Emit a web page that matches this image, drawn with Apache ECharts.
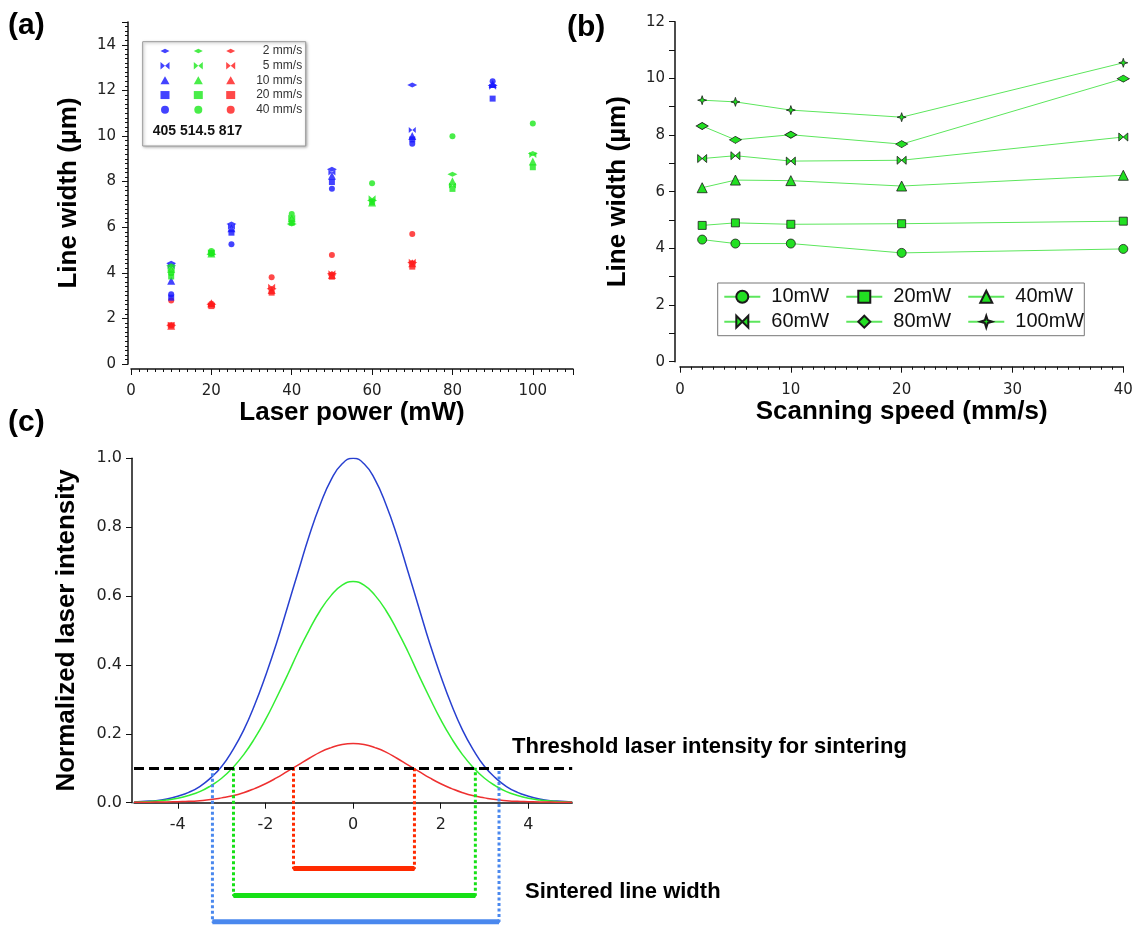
<!DOCTYPE html>
<html>
<head>
<meta charset="utf-8">
<script src="https://cdn.jsdelivr.net/npm/echarts@6/dist/echarts.min.js"></script>
<style>html,body{margin:0;padding:0;background:#fff}#main{width:1140px;height:926px}</style>
</head>
<body>
<div id="main"></div>
<script>
// (a) line width vs laser power: one row per power, columns = scan speed
var speedNames = ['2 mm/s', '5 mm/s', '10 mm/s', '20 mm/s', '40 mm/s'];
var power405 = [10, 25, 50, 70, 90];
var width405 = [
  [4.42, 4.30, 3.65, 2.91, 3.06],
  [6.14, 6.02, 5.95, 5.76, 5.25],
  [8.54, 8.40, 8.26, 7.98, 7.69],
  [12.24, 10.26, 10.0, 9.85, 9.66],
  [12.22, 12.16, 12.28, 11.64, 12.40]
];
var power817 = [10, 20, 35, 50, 70];
var width817 = [
  [1.70, 1.72, 1.68, 1.70, 2.78],
  [2.62, 2.58, 2.66, 2.54, 2.64],
  [3.30, 3.39, 3.25, 3.13, 3.80],
  [3.96, 3.98, 3.90, 3.83, 4.78],
  [4.45, 4.49, 4.42, 4.27, 5.70]
];
// 514.5 nm, used in (a) and (b): rows = power, columns = speed
var power514 = [10, 20, 40, 60, 80, 100];
var powerNames = ['10mW', '20mW', '40mW', '60mW', '80mW', '100mW'];
var speedB = [2, 5, 10, 20, 40];
var width514 = [
  [4.31, 4.17, 4.17, 3.84, 3.98],
  [4.81, 4.90, 4.85, 4.87, 4.96],
  [6.14, 6.41, 6.39, 6.20, 6.58],
  [7.17, 7.27, 7.08, 7.11, 7.93],
  [8.32, 7.83, 8.01, 7.68, 9.99],
  [9.23, 9.17, 8.88, 8.63, 10.55]
];
// (c) beam profiles, read every 0.25
var posC = [-5, -4.75, -4.5, -4.25, -4, -3.75, -3.5, -3.25, -3, -2.75, -2.5, -2.25, -2, -1.75, -1.5, -1.25, -1, -0.75, -0.5, -0.25,
  0, 0.25, 0.5, 0.75, 1, 1.25, 1.5, 1.75, 2, 2.25, 2.5, 2.75, 3, 3.25, 3.5, 3.75, 4, 4.25, 4.5, 4.75, 5];
var blueC = [0.002, 0.004, 0.006, 0.011, 0.019, 0.030, 0.047, 0.072, 0.105, 0.152, 0.21, 0.283, 0.368, 0.462, 0.567, 0.672, 0.776, 0.866, 0.938, 0.984,
  1.0, 0.984, 0.938, 0.866, 0.776, 0.672, 0.567, 0.462, 0.368, 0.283, 0.21, 0.152, 0.105, 0.072, 0.047, 0.030, 0.019, 0.011, 0.006, 0.004, 0.002];
var greenC = [0.001, 0.003, 0.005, 0.008, 0.013, 0.021, 0.032, 0.049, 0.071, 0.101, 0.139, 0.186, 0.241, 0.304, 0.37, 0.439, 0.502, 0.558, 0.602, 0.632,
  0.642, 0.632, 0.602, 0.558, 0.502, 0.439, 0.37, 0.304, 0.241, 0.186, 0.139, 0.101, 0.071, 0.049, 0.032, 0.021, 0.013, 0.008, 0.005, 0.003, 0.001];
var redC = [0.001, 0.001, 0.002, 0.002, 0.003, 0.004, 0.006, 0.009, 0.014, 0.020, 0.029, 0.041, 0.055, 0.072, 0.091, 0.110, 0.129, 0.147, 0.160, 0.169,
  0.172, 0.169, 0.160, 0.147, 0.129, 0.110, 0.091, 0.072, 0.055, 0.041, 0.029, 0.020, 0.014, 0.009, 0.006, 0.004, 0.003, 0.002, 0.002, 0.001, 0.001];
var threshold = 0.1;
var sinterLeft = [-1.36, -2.73, -3.21];
var sinterRight = [1.40, 2.79, 3.33];
var sinterLevel = [-0.193, -0.271, -0.348];
var sinterColors = ['#ff2a00', '#16e016', '#4a88ee'];

var diamondH = 'path://M0,4L8,0L16,4L8,8Z';
var bowtie = 'path://M0,0L6,5L0,10ZM12,0L6,5L12,10Z';
var star4 = 'path://M5,0L6.2,3.8L10,5L6.2,6.2L5,10L3.8,6.2L0,5L3.8,3.8Z';
var symA = [diamondH, bowtie, 'triangle', 'rect', 'circle'];
var sizeA = [[10, 5], [7, 6], 8, 6, 6];
var symB = ['circle', 'rect', 'triangle', bowtie, diamondH, star4];
var sizeB = [9, 8, 10, [9, 8], [12, 7], 9];

var c405 = '#1414ff', c514 = '#1be81b', c817 = '#ff1a1a';
var tickFont = 'DejaVu Sans';

var myChart = echarts.init(document.getElementById('main'));

function scatterSeries(prefix, color, powers, widths) {
  return speedNames.map(function (sp, j) {
    return {
      name: prefix + ' ' + sp, type: 'scatter', xAxisIndex: 0, yAxisIndex: 0,
      symbol: symA[j], symbolSize: sizeA[j], itemStyle: {color: color},
      data: powers.map(function (p, i) { return [p, widths[i][j]]; })
    };
  });
}

var series = [];
series = series.concat(scatterSeries('817', c817, power817, width817));
series = series.concat(scatterSeries('405', c405, power405, width405));
series = series.concat(scatterSeries('514.5', c514, power514, width514));

for (var i = 0; i < powerNames.length; i++) {
  series.push({
    name: powerNames[i], type: 'line', xAxisIndex: 1, yAxisIndex: 1,
    symbol: symB[i], symbolSize: sizeB[i],
    lineStyle: {color: '#5ce65c', width: 1},
    itemStyle: {color: '#22e022', borderColor: '#1a1a1a', borderWidth: 0.8},
    data: speedB.map(function (s, j) { return [s, width514[i][j]]; })
  });
}

var curves = [[blueC, '#2840d0'], [greenC, '#33ee33'], [redC, '#ee3030']];
curves.forEach(function (c, k) {
  var s = {
    type: 'line', xAxisIndex: 2, yAxisIndex: 2, smooth: true, showSymbol: false,
    lineStyle: {color: c[1], width: 1.5},
    data: posC.map(function (x, i) { return [x, c[0][i]]; })
  };
  if (k === 0) {
    s.markLine = {
      silent: true, symbol: 'none', label: {show: false},
      lineStyle: {color: '#000', width: 3, type: [10, 5]},
      data: [{yAxis: threshold}]
    };
  }
  series.push(s);
});

for (var k = 0; k < 3; k++) {
  series.push({
    type: 'line', xAxisIndex: 3, yAxisIndex: 3, showSymbol: false,
    lineStyle: {color: sinterColors[k], width: 3, type: [3, 2.5]},
    data: [[sinterLeft[k], threshold], [sinterLeft[k], sinterLevel[k]],
           [sinterRight[k], sinterLevel[k]], [sinterRight[k], threshold]]
  });
  series.push({
    type: 'line', xAxisIndex: 3, yAxisIndex: 3, showSymbol: false,
    lineStyle: {color: sinterColors[k], width: 5},
    data: [[sinterLeft[k], sinterLevel[k]], [sinterRight[k], sinterLevel[k]]]
  });
}

var axisLine = {show: true, onZero: false, lineStyle: {color: '#111', width: 1.5}};
var nameStyle = {fontSize: 26, fontWeight: 'bold', color: '#000', fontFamily: 'Liberation Sans'};

function legendA(prefix, left, withText) {
  var l = {
    orient: 'vertical', left: left, top: 43.6, padding: 0, itemGap: 0,
    itemWidth: 9, itemHeight: 8, selectedMode: false,
    data: speedNames.map(function (sp, j) { return {name: prefix + ' ' + sp, icon: symA[j]}; }),
    textStyle: {fontSize: 12, lineHeight: 14.7, color: '#333', fontFamily: 'Liberation Sans'}
  };
  if (withText) {
    l.formatter = function (name) { return '{r|' + name.replace(prefix + ' ', '') + '}'; };
    l.textStyle.rich = {r: {width: 62, align: 'right', fontSize: 12, color: '#333', fontFamily: 'Liberation Sans'}};
  } else {
    l.formatter = function () { return ' '; };
  }
  return l;
}

function legendB(names, top) {
  return {
    orient: 'horizontal', left: 723.3, top: top, padding: 0, itemGap: 16.2,
    itemWidth: 36, itemHeight: 15, selectedMode: false, data: names,
    textStyle: {fontSize: 20, lineHeight: 22, color: '#111', fontFamily: 'Liberation Sans', padding: [0, 0, 0, 6]}
  };
}

var option = {
  animation: false,
  textStyle: {fontFamily: 'Liberation Sans'},
  grid: [
    {left: 131, right: 567, top: 22, bottom: 562},
    {left: 680, right: 16.7, top: 21.7, bottom: 564.3},
    {left: 134, right: 567.8, top: 458.3, bottom: 123.3},
    {left: 134, right: 567.8, top: 458.3, bottom: -0.7}
  ],
  legend: [
    legendA('405', 160.5, false),
    legendA('514.5', 193.8, false),
    legendA('817', 226.2, true),
    legendB(powerNames.slice(0, 3), 285.7),
    legendB(powerNames.slice(3), 310.7)
  ],
  xAxis: [
    {gridIndex: 0, type: 'value', min: 0, max: 110, interval: 20, offset: 5,
     name: 'Laser power (mW)', nameLocation: 'middle', nameGap: 31, nameTextStyle: nameStyle,
     axisLine: axisLine, axisTick: {length: 6, lineStyle: {color: '#111'}},
     minorTick: {show: true, splitNumber: 10, length: 3, lineStyle: {color: '#111'}},
     axisLabel: {fontSize: 15, color: '#222', margin: 15, fontFamily: tickFont, showMaxLabel: false},
     splitLine: {show: false}},
    {gridIndex: 1, type: 'value', min: 0, max: 40, interval: 10, offset: 5,
     name: 'Scanning speed (mm/s)', nameLocation: 'middle', nameGap: 31, nameTextStyle: nameStyle,
     axisLine: axisLine, axisTick: {length: 6, lineStyle: {color: '#111'}},
     minorTick: {show: true, splitNumber: 10, length: 3, lineStyle: {color: '#111'}},
     axisLabel: {fontSize: 15, color: '#222', margin: 16, fontFamily: tickFont},
     splitLine: {show: false}},
    {gridIndex: 2, type: 'value', min: -5, max: 5,
     axisLine: axisLine,
     axisTick: {length: 6, lineStyle: {color: '#111'}, customValues: [-4, -2, 0, 2, 4]},
     axisLabel: {fontSize: 16, color: '#222', margin: 14, fontFamily: tickFont, customValues: [-4, -2, 0, 2, 4]},
     splitLine: {show: false}},
    {gridIndex: 3, type: 'value', min: -5, max: 5, show: false}
  ],
  yAxis: [
    {gridIndex: 0, type: 'value', min: 0, max: 15, interval: 2, offset: 3,
     name: 'Line width (\u00b5m)', nameLocation: 'middle', nameGap: 46, nameTextStyle: nameStyle,
     axisLine: axisLine, axisTick: {length: 6, lineStyle: {color: '#111'}},
     minorTick: {show: true, splitNumber: 10, length: 3, lineStyle: {color: '#111'}},
     axisLabel: {fontSize: 15, color: '#222', margin: 12, fontFamily: tickFont, showMaxLabel: false},
     splitLine: {show: false}},
    {gridIndex: 1, type: 'value', min: 0, max: 12, interval: 2, offset: 5,
     name: 'Line width (\u00b5m)', nameLocation: 'middle', nameGap: 44, nameTextStyle: nameStyle,
     axisLine: axisLine, axisTick: {length: 6, lineStyle: {color: '#111'}},
     minorTick: {show: true, splitNumber: 2, length: 6, lineStyle: {color: '#111'}},
     axisLabel: {fontSize: 15, color: '#222', margin: 10, fontFamily: tickFont},
     splitLine: {show: false}},
    {gridIndex: 2, type: 'value', min: 0, max: 1, interval: 0.2, offset: 2,
     name: 'Normalized laser intensity', nameLocation: 'middle', nameGap: 52, nameTextStyle: nameStyle,
     axisLine: axisLine, axisTick: {length: 6, lineStyle: {color: '#111'}},
     axisLabel: {fontSize: 16, color: '#222', margin: 10, fontFamily: tickFont,
                 formatter: function (v) { return v.toFixed(1); }},
     splitLine: {show: false}},
    {gridIndex: 3, type: 'value', min: -0.36, max: 1.0, show: false}
  ],
  graphic: [
    {type: 'rect', z: 1, shape: {x: 142.7, y: 41.7, width: 163, height: 104.3},
     style: {fill: '#fff', stroke: '#999', lineWidth: 1, shadowBlur: 3, shadowOffsetX: 1, shadowOffsetY: 1, shadowColor: 'rgba(0,0,0,0.35)'}},
    {type: 'text', z: 5, left: 152.7, top: 124.5,
     style: {text: '405 514.5 817', font: 'bold 14px "Liberation Sans"', fill: '#111'}},
    {type: 'rect', z: 1, shape: {x: 717.7, y: 283, width: 366.6, height: 52.7},
     style: {fill: '#fff', stroke: '#777', lineWidth: 1}},
    {type: 'text', z: 5, left: 8, top: 11, style: {text: '(a)', font: 'bold 30px "Liberation Sans"', fill: '#000'}},
    {type: 'text', z: 5, left: 567, top: 13, style: {text: '(b)', font: 'bold 30px "Liberation Sans"', fill: '#000'}},
    {type: 'text', z: 5, left: 8, top: 408, style: {text: '(c)', font: 'bold 30px "Liberation Sans"', fill: '#000'}},
    {type: 'text', z: 5, left: 512, top: 736,
     style: {text: 'Threshold laser intensity for sintering', font: 'bold 22px "Liberation Sans"', fill: '#000'}},
    {type: 'text', z: 5, left: 525, top: 881,
     style: {text: 'Sintered line width', font: 'bold 22px "Liberation Sans"', fill: '#000'}}
  ],
  series: series
};
myChart.setOption(option);
</script>
</body>
</html>
